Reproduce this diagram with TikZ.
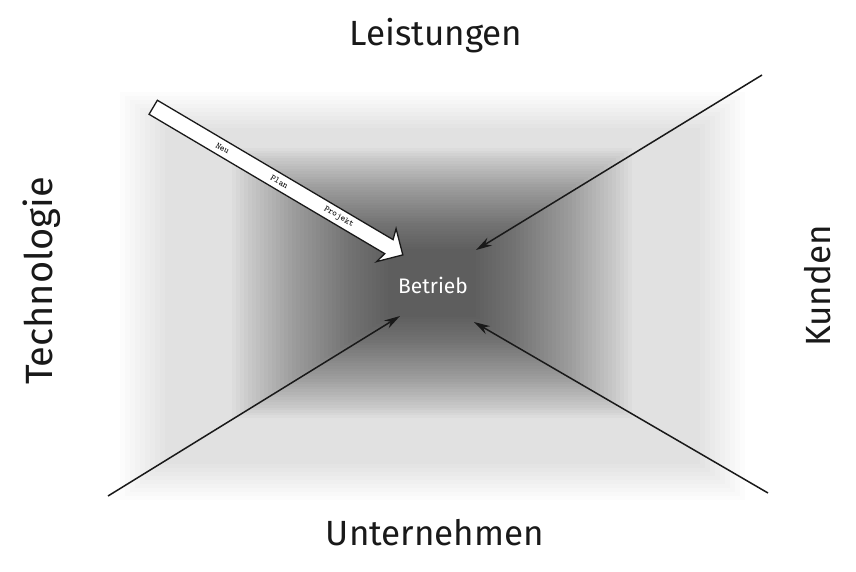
\documentclass[tikz,border=0pt]{standalone}
\usepackage{tikz}
\usepackage{xcolor}
\usepackage{fontspec}
\setmainfont{Fira Sans}
\usetikzlibrary{arrows.meta}
\usetikzlibrary{shapes.arrows}

\begin{document}
\begin{tikzpicture}[x=1pt, y=-1pt,
		label/.style={font=\fontsize{35}{40}\selectfont, text=black!90},
		force/.style={-{Stealth[length=16pt, width=9pt]}, line width=1.5pt, color=black!90},
		planarrow/.style={single arrow, draw=black!90, line width=1.3pt, fill=white, single arrow head extend=11pt, single arrow head indent=3pt, inner xsep=0pt, inner ysep=7.5pt, minimum height=290pt},
		tag/.style={font=\ttfamily\fontsize{9}{10}\selectfont, inner sep=0pt, sloped}]
			\definecolor{SHADE}{RGB}{30, 30, 30}
			\useasboundingbox[fill=white] (0, 0) rectangle (856, 571);
			% grey field behind the picture
			\foreach \k in {0,...,9}
				\fill[SHADE, opacity=0.01] (120+\k*5, 92+\k*4) rectangle (745-\k*5, 500-\k*4);
			\foreach \k in {0,...,39}
				\fill[SHADE, opacity=0.024] (232+\k*4, 148+\k*2.6) rectangle (632-\k*4, 418-\k*2.6);
			\node[label] (leistungen) at (436, 36) {Leistungen};
			\node[label] (unternehmen) at (435, 533) {Unternehmen};
			\node[label, font=\fontsize{38}{44}\selectfont, rotate=90] (technologie) at (42, 281) {Technologie};
			\node[label, rotate=90] (kunden) at (818, 286) {Kunden};
			\node[font=\fontsize{21}{25}\selectfont, text=white] (betrieb) at (433, 285) {Betrieb};
			\coordinate (kundenstart) at (762, 75);
			\coordinate (kundenend) at (476, 250);
			\coordinate (technostart) at (108, 496);
			\coordinate (technoend) at (400, 316);
			\coordinate (unternstart) at (768, 493);
			\coordinate (unternend) at (474, 322);
			\coordinate (planstart) at (151, 106);
			\coordinate (planend) at (398, 252);
			\node[planarrow, rotate=-30.6] (plan) at (274.5, 179) {};
			\draw[force] (kundenstart) to (kundenend);
			\draw[force] (technostart) to (technoend);
			\draw[force] (unternstart) to (unternend);
			\path (planstart) -- (planend)
				node[tag, pos=0.29] (neu) {Neu}
				node[tag, pos=0.52] (planword) {Plan}
				node[tag, pos=0.76] (projekt) {Projekt};
		\end{tikzpicture}
\end{document}
